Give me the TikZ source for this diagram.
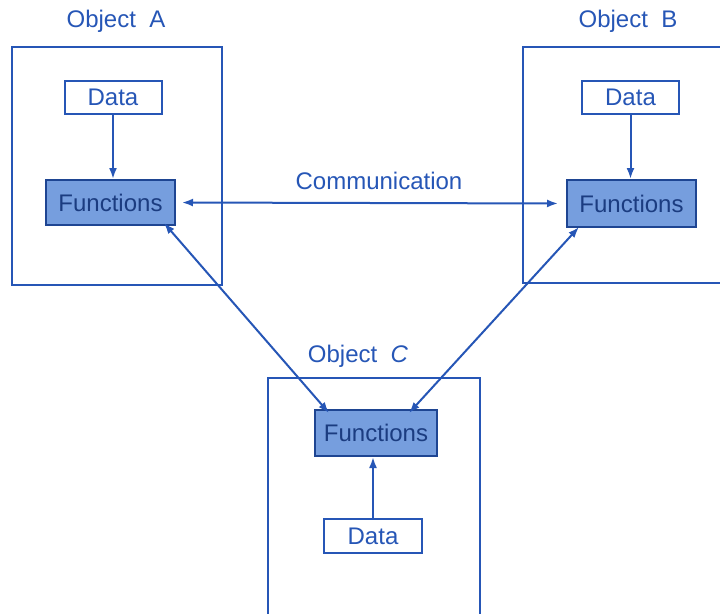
\documentclass[tikz,border=0pt]{standalone}
\usepackage{fontspec}
\setmainfont{Liberation Sans}
\usetikzlibrary{arrows.meta}
\definecolor{ink}{RGB}{38,86,182}
\definecolor{fnfill}{RGB}{118,158,222}
\begin{document}
\begin{tikzpicture}[x=1pt,y=-1pt,
  every node/.style={text=ink,font=\fontsize{24}{26}\selectfont},
  frame/.style={draw=ink,line width=2pt,inner sep=0pt},
  databox/.style={draw=ink,line width=2pt,fill=white,inner sep=0pt,minimum width=97pt,minimum height=33pt},
  fnbox/.style={draw=ink!80!black,line width=2pt,fill=fnfill,inner sep=0pt,text=ink!70!black},
  title/.style={inner sep=0pt},
  tip/.tip={Latex[length=11pt,width=8pt]},
  link/.style={draw=ink,line width=2pt,tip-tip},
  feed/.style={draw=ink,line width=2pt,-tip}]
\useasboundingbox (0,0) rectangle (720,613);
% frames
\node[frame,minimum width=210pt,minimum height=238pt] (boxA) at (117,166) {};
\node[frame,minimum width=210pt,minimum height=236pt] (boxB) at (628,165) {};
\node[frame,minimum width=212pt,minimum height=245pt] (boxC) at (374,500.5) {};
% titles
\node[title] (tA) at (116,21) {Object\ \ A};
\node[title] (tB) at (628,21) {Object\ \ B};
\node[title] (tC) at (358,356) {Object\ \ \textit{C}};
% object A
\node[databox] (da) at (113,97) {Data};
\node[fnbox,minimum width=129pt,minimum height=45pt] (fa) at (110.5,202.5) {Functions};
% object B
\node[databox] (db) at (630.5,97) {Data};
\node[fnbox,minimum width=129pt,minimum height=47pt] (fb) at (631.5,203.5) {Functions};
% object C
\node[fnbox,minimum width=122pt,minimum height=46pt] (fc) at (376,433) {Functions};
\node[databox,minimum width=98pt,minimum height=34pt] (dc) at (373,536) {Data};
% label
\node[title] (comm) at (379,181) {Communication};
% connectors
\draw[feed] (da.south) -- (da.south |- fa.north);
\draw[feed] (db.south) -- (db.south |- fb.north);
\draw[feed] (dc.north) -- (dc.north |- fc.south);
\draw[link,shorten <=6pt,shorten >=8pt] (fa.east) -- (fb.west);
\draw[link] ([xshift=-12pt,yshift=3pt]fa.south east) -- ([xshift=15pt,yshift=-4pt]fc.north west);
\draw[link] ([xshift=13pt,yshift=1pt]fb.south west) -- ([xshift=-29pt,yshift=-4pt]fc.north east);
\end{tikzpicture}
\end{document}
